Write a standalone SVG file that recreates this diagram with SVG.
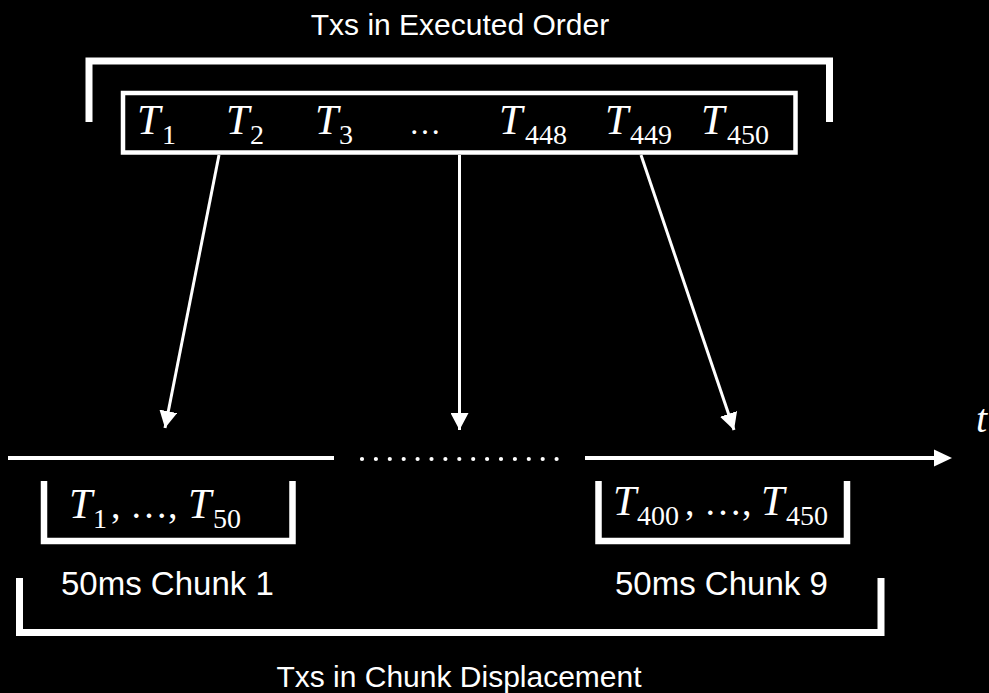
<svg xmlns="http://www.w3.org/2000/svg" width="989" height="693" viewBox="0 0 989 693">
<style>
.bg{fill:#000}
.bracket{fill:none;stroke:#fff;stroke-width:7;stroke-linecap:butt;stroke-linejoin:miter}
.box{fill:none;stroke:#fff;stroke-width:4.5}
.chunk{fill:none;stroke:#fff;stroke-width:6.5}
.line{stroke:#fff;stroke-width:4;fill:none}
.conn{stroke:#fff;stroke-width:3;fill:none}
.sans{font-family:"Liberation Sans",Arial,Helvetica,sans-serif;fill:#fff}
.math{font-family:"Liberation Serif","Times New Roman",serif;fill:#fff}
.T{font-style:italic;font-size:42px}
.sub{font-size:28px}
</style>
<defs>
<marker id="ah" markerUnits="userSpaceOnUse" markerWidth="18" markerHeight="18" refX="17" refY="9" orient="auto">
<path d="M0,0 L17,9 L0,18 Z" fill="#fff"/>
</marker>
</defs>
<rect class="bg" x="0" y="0" width="989" height="693"/>

<g id="executed-order">
<text class="sans" x="460" y="35" font-size="30" text-anchor="middle">Txs in Executed Order</text>
<path class="bracket" d="M89,122 V61 H829.5 V122"/>
<rect class="box" x="123" y="93" width="672.5" height="59.5"/>
<g class="math">
<text y="134"><tspan class="T" x="137">T</tspan><tspan class="sub" x="162" y="144">1</tspan></text>
<text y="134"><tspan class="T" x="226">T</tspan><tspan class="sub" x="250" y="144">2</tspan></text>
<text y="134"><tspan class="T" x="315">T</tspan><tspan class="sub" x="339" y="144">3</tspan></text>
<text x="409" y="134" font-size="32">…</text>
<text y="134"><tspan class="T" x="499">T</tspan><tspan class="sub" x="525" y="144">448</tspan></text>
<text y="134"><tspan class="T" x="605">T</tspan><tspan class="sub" x="630" y="144">449</tspan></text>
<text y="134"><tspan class="T" x="701">T</tspan><tspan class="sub" x="727" y="144">450</tspan></text>
</g>
</g>

<g id="connectors">
<line class="conn" x1="219" y1="155" x2="165" y2="428" marker-end="url(#ah)"/>
<line class="conn" x1="459.5" y1="155" x2="459.5" y2="430" marker-end="url(#ah)"/>
<line class="conn" x1="641" y1="155" x2="734" y2="430" marker-end="url(#ah)"/>
</g>

<g id="timeline">
<line class="line" x1="8" y1="458" x2="334" y2="458"/>
<line stroke="#fff" stroke-width="4.2" stroke-linecap="round" stroke-dasharray="0 13.9" x1="362" y1="459" x2="557" y2="459"/>
<line class="line" x1="585" y1="458" x2="935" y2="458"/>
<path d="M934,449.5 L952,458 L934,466.5 Z" fill="#fff"/>
<text class="math" x="976" y="432" font-size="40" font-style="italic">t</text>
</g>

<g id="chunk-1">
<path class="chunk" d="M44,481 V541 H292.5 V481"/>
<text class="math" y="518" font-size="38"><tspan class="T" x="69">T</tspan><tspan class="sub" x="93" y="528">1</tspan><tspan x="111" y="518">, …,</tspan><tspan class="T" x="188">T</tspan><tspan class="sub" x="213" y="528">50</tspan></text>
<text class="sans" x="61" y="595" font-size="33">50ms Chunk 1</text>
</g>

<g id="chunk-9">
<path class="chunk" d="M598.5,481 V541 H847 V481"/>
<text class="math" y="515" font-size="38"><tspan class="T" x="613">T</tspan><tspan class="sub" x="637" y="525">400</tspan><tspan x="685" y="515">, …,</tspan><tspan class="T" x="761">T</tspan><tspan class="sub" x="786" y="525">450</tspan></text>
<text class="sans" x="615" y="595" font-size="33">50ms Chunk 9</text>
</g>

<g id="chunk-displacement">
<path class="bracket" d="M19.5,578 V632.5 H881 V578"/>
<text class="sans" x="459" y="687" font-size="30" text-anchor="middle">Txs in Chunk Displacement</text>
</g>
</svg>
